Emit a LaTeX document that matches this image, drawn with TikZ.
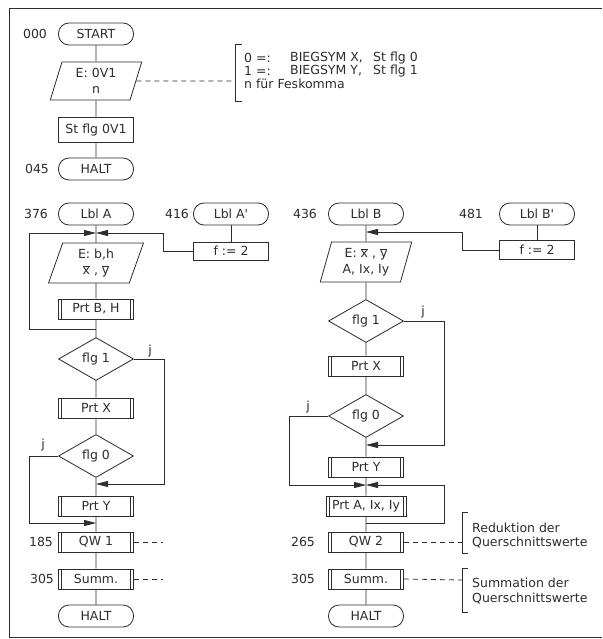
\documentclass[tikz,border=0pt]{standalone}
\usepackage{fontspec}
\setmainfont{DejaVu Sans}
\usetikzlibrary{shapes.geometric,arrows.meta}
\definecolor{ink}{RGB}{45,45,45}
\newcommand{\barred}[1]{$\overline{\hbox{#1}}$}
\tikzset{
  base/.style={draw=ink, line width=0.8pt, inner sep=1pt, text=ink,
    font=\fontsize{12.5}{16}\selectfont},
  term/.style={base, rectangle, rounded corners=10.5pt, minimum width=75pt, minimum height=22pt},
  io/.style={base, trapezium, trapezium left angle=75, trapezium right angle=105,
    trapezium stretches=true, minimum width=92pt, minimum height=38pt, align=center},
  proc/.style={base, rectangle, minimum width=75pt, minimum height=20pt},
  predef/.style={proc, path picture={\draw[ink, line width=0.8pt]
    ([xshift=3pt]path picture bounding box.north west) -- ([xshift=3pt]path picture bounding box.south west)
    ([xshift=-3pt]path picture bounding box.north east) -- ([xshift=-3pt]path picture bounding box.south east);}},
  dec/.style={base, diamond, minimum width=75pt, minimum height=43pt, inner sep=0pt},
  lbl/.style={inner sep=0pt, text=ink, font=\fontsize{12.5}{16}\selectfont},
  line/.style={draw=ink, line width=0.8pt},
  arr/.style={line, -{Triangle[length=12pt,width=6pt]}},
  dashline/.style={line, dash pattern=on 5pt off 4pt},
}
\begin{document}
\begin{tikzpicture}[x=1pt,y=-1pt]
\fill[white] (0,0) rectangle (602,639);
\useasboundingbox (0,0) rectangle (602,639);
\draw[line] (602,8) -- (9,8) -- (9,637) -- (602,637);

% ---------- top part ----------
\node[term] (start) at (96,34) {START};
\node[lbl] (l000) at (35,34) {000};
\node[io] (inOV) at (96,81) {E: 0V1\\n};
\node[proc, minimum height=25pt] (stflg) at (96,130) {St flg 0V1};
\node[term] (halt0) at (96,169) {HALT};
\node[lbl] (l045) at (37,169) {045};
\draw[line] (start) -- (inOV) -- (stflg) -- (halt0);

\coordinate (brT) at (235,81);
\draw[dashline] (inOV.east) -- (brT);
\draw[line] (242,44) -- (235,44) -- (235,101) -- (242,101);
\node[lbl, anchor=west] (t1a) at (244,58) {0 =:};
\node[lbl, anchor=west] (t1b) at (290,58) {BIEGSYM X,};
\node[lbl, anchor=west] (t1c) at (373,58) {St flg 0};
\node[lbl, anchor=west] (t2a) at (244,71) {1 =:};
\node[lbl, anchor=west] (t2b) at (290,71) {BIEGSYM Y,};
\node[lbl, anchor=west] (t2c) at (373,71) {St flg 1};
\node[lbl, anchor=west] (t3a) at (244,84) {n für Feskomma};

% ---------- left lower column ----------
\node[term] (lA) at (96,214) {Lbl A};
\node[lbl] (n376) at (36,214) {376};
\coordinate (jA) at (96,233);
\node[io, minimum height=40pt, minimum width=95pt] (inA) at (96,263) {E: b,h\\\barred{x} , \barred{y}};
\node[predef] (prtBH) at (96,309) {Prt B, H};
\coordinate (jBH) at (96,329);
\node[dec] (f1A) at (96,359) {flg 1};
\node[predef] (prtXA) at (96,408) {Prt X};
\node[dec] (f0A) at (96,456) {flg 0};
\coordinate (jYA) at (96,484);
\node[predef] (prtYA) at (96,506) {Prt Y};
\coordinate (jQA) at (96,523);
\node[predef] (qw1) at (96,542) {QW 1};
\node[predef] (sumA) at (96,579) {Summ.};
\node[term] (haltA) at (96,616) {HALT};
\draw[line] (lA) -- (inA) -- (prtBH) -- (f1A) -- (prtXA) -- (f0A) -- (prtYA) -- (qw1) -- (sumA) -- (haltA);

\node[term] (lAp) at (231,214) {Lbl A\textquotesingle};
\node[lbl] (n416) at (177,214) {416};
\node[proc, minimum height=18pt] (fA) at (231,251) {f := 2};
\draw[line] (lAp) -- (fA);
\draw[arr] (fA.west) -| (163,233) -- (jA);
\draw[arr] (jBH) -| (29,233) -- (jA);
\draw[arr] (f1A.east) -| (164,484) -- (jYA);
\node[lbl] (jl1) at (150,351) {j};
\draw[arr] (f0A.west) -| (29,523) -- (jQA);
\node[lbl] (jl2) at (43,445) {j};
\coordinate (dA1) at (163,542);
\draw[dashline] (qw1.east) -- (dA1);
\coordinate (dA2) at (163,579);
\draw[dashline] (sumA.east) -- (dA2);
\node[lbl] (n185) at (41,542) {185};
\node[lbl] (n305a) at (42,579) {305};

% ---------- right lower column ----------
\node[term] (lB) at (366,214) {Lbl B};
\node[lbl] (n436) at (305,214) {436};
\coordinate (jB) at (366,232);
\node[io, minimum height=40pt, minimum width=92pt] (inB) at (366,262) {E: \barred{x} , \barred{y}\\A, Ix, Iy};
\node[dec] (f1B) at (366,321) {flg 1};
\node[predef] (prtXB) at (366,366) {Prt X};
\node[dec] (f0B) at (366,416) {flg 0};
\coordinate (jYB) at (366,445);
\node[predef] (prtYB) at (366,467) {Prt Y};
\coordinate (jAB) at (366,485);
\node[predef, minimum width=80pt] (prtAI) at (366,506) {Prt A, Ix, Iy};
\coordinate (jIB) at (366,523);
\node[predef] (qw2) at (366,542) {QW 2};
\node[predef] (sumB) at (366,579) {Summ.};
\node[term] (haltB) at (366,616) {HALT};
\draw[line] (lB) -- (inB) -- (f1B) -- (prtXB) -- (f0B) -- (prtYB) -- (prtAI) -- (qw2) -- (sumB) -- (haltB);

\node[term] (lBp) at (537,214) {Lbl B\textquotesingle};
\node[lbl] (n481) at (471,214) {481};
\node[proc, minimum height=19pt] (fB) at (537,250) {f := 2};
\draw[line] (lBp) -- (fB);
\draw[arr] (fB.west) -| (462,232) -- (jB);
\draw[arr] (f1B.east) -| (444,445) -- (jYB);
\node[lbl] (jr1) at (423,312) {j};
\draw[arr] (f0B.west) -| (289,485) -- (jAB);
\node[lbl] (jr2) at (308,407) {j};
\draw[arr] (jIB) -| (444,485) -- (jAB);
\node[lbl] (n265) at (303,542) {265};
\node[lbl] (n305b) at (303,579) {305};

\coordinate (brR) at (462,542);
\draw[dashline] (qw2.east) -- (brR);
\draw[line] (468,512) -- (462,512) -- (462,553) -- (468,553);
\node[lbl, anchor=west] (r1) at (472,528) {Reduktion der};
\node[lbl, anchor=west] (r2) at (472,543) {Querschnittswerte};

\coordinate (brS) at (462,580);
\draw[dashline] (sumB.east) -- (brS);
\draw[line] (468,568) -- (462,568) -- (462,612) -- (468,612);
\node[lbl, anchor=west] (s1) at (472,583) {Summation der};
\node[lbl, anchor=west] (s2) at (472,599) {Querschnittswerte};
\end{tikzpicture}
\end{document}
